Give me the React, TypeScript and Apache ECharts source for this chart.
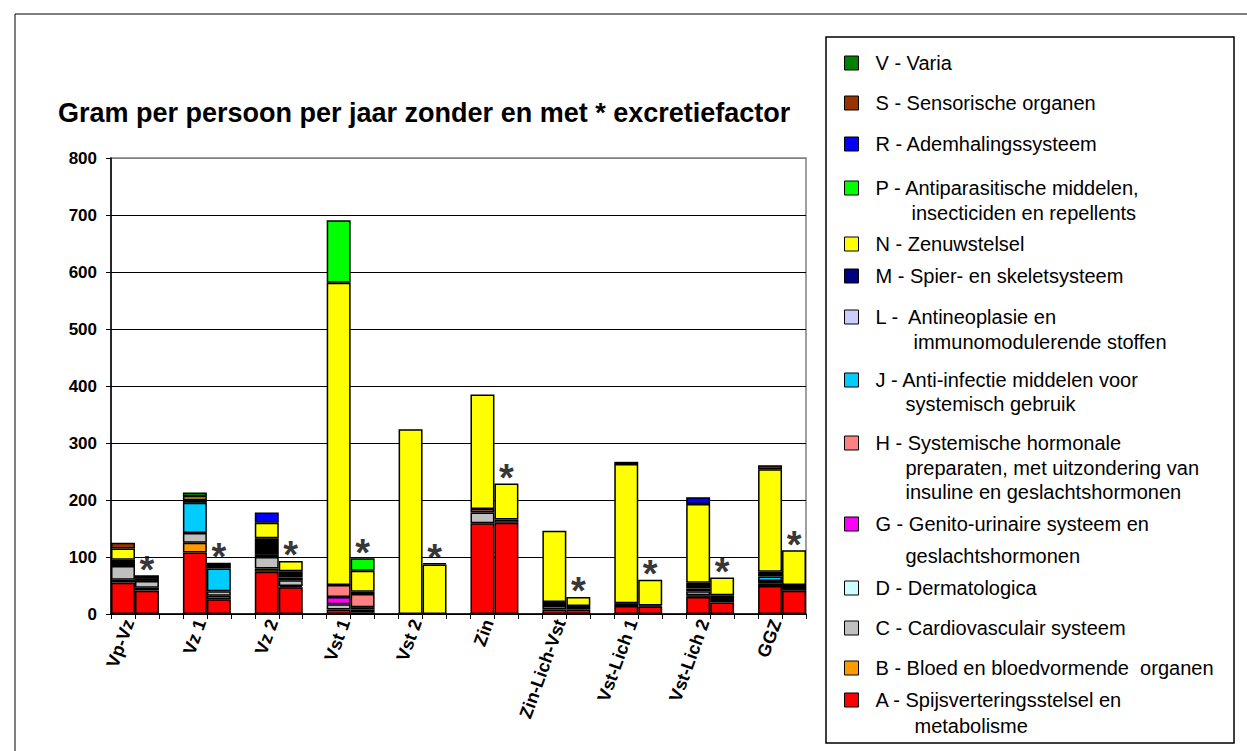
import React, { useEffect, useRef } from 'react';
import * as echarts from 'echarts';

const FONT = '"Liberation Sans", Arial, sans-serif';

// Groups of bars: each group has a bar "zonder" and a bar "met * excretiefactor"
const groups = ['Vp-Vz', 'Vz 1', 'Vz 2', 'Vst 1', 'Vst 2', 'Zin', 'Zin-Lich-Vst', 'Vst-Lich 1', 'Vst-Lich 2', 'GGZ'];
const yTicks = [0, 100, 200, 300, 400, 500, 600, 700, 800];

// values per ATC group, ordered [zonder, met] for each of the 10 groups (gram per persoon per jaar)
const A = [55, 41, 108, 26, 74, 47, 8, 3, 0, 0, 159, 160, 8, 8, 14, 13, 30, 20, 49, 41];
const B = [5, 5, 17, 6, 6, 2, 0, 0, 0, 0, 0, 0, 0, 0, 0, 0, 3, 0, 5, 0];
const C = [24, 12, 17, 8, 20, 10, 9, 5, 0, 0, 19, 6, 6, 0, 0, 0, 7, 0, 4, 0];
const D = [0, 0, 0, 0, 0, 0, 0, 0, 0, 0, 0, 0, 0, 0, 0, 0, 0, 0, 0, 0];
const G = [0, 0, 0, 0, 0, 0, 13, 4, 0, 0, 0, 0, 0, 0, 0, 0, 0, 0, 0, 0];
const H = [0, 0, 0, 0, 0, 0, 21, 23, 0, 0, 6, 0, 0, 0, 0, 0, 0, 0, 0, 0];
const J = [0, 0, 53, 40, 5, 5, 0, 0, 0, 0, 0, 0, 0, 0, 0, 0, 5, 0, 8, 0];
const L = [0, 0, 0, 0, 0, 0, 0, 4, 0, 0, 0, 0, 0, 0, 0, 0, 0, 0, 0, 0];
const M = [11, 5, 5, 10, 28, 11, 0, 0, 0, 0, 0, 0, 7, 6, 5, 2, 10, 13, 8, 10];
const N = [20, 5, 7, 0, 27, 18, 530, 37, 324, 87, 201, 63, 125, 16, 244, 45, 138, 31, 180, 61];
const P = [0, 0, 6, 0, 0, 0, 110, 22, 0, 0, 0, 0, 0, 0, 0, 0, 0, 0, 0, 0];
const R = [0, 0, 0, 0, 18, 0, 0, 0, 0, 0, 0, 0, 0, 0, 0, 0, 12, 0, 0, 0];
const S = [10, 0, 0, 0, 0, 0, 0, 0, 0, 2, 0, 0, 0, 0, 4, 0, 0, 0, 7, 0];
const V = [0, 0, 0, 0, 0, 0, 0, 0, 0, 0, 0, 0, 0, 0, 0, 0, 0, 0, 0, 0];

// legend texts (lines)
const seriesDefs = [
  { key: 'A', values: A, lines: ['A - Spijsverteringsstelsel en', 'metabolisme'] },
  { key: 'B', values: B, lines: ['B - Bloed en bloedvormende  organen'] },
  { key: 'C', values: C, lines: ['C - Cardiovasculair systeem'] },
  { key: 'D', values: D, lines: ['D - Dermatologica'] },
  { key: 'G', values: G, lines: ['G - Genito-urinaire systeem en', 'geslachtshormonen'] },
  { key: 'H', values: H, lines: ['H - Systemische hormonale', 'preparaten, met uitzondering van', 'insuline en geslachtshormonen'] },
  { key: 'J', values: J, lines: ['J - Anti-infectie middelen voor', 'systemisch gebruik'] },
  { key: 'L', values: L, lines: ['L -  Antineoplasie en', 'immunomodulerende stoffen'] },
  { key: 'M', values: M, lines: ['M - Spier- en skeletsysteem'] },
  { key: 'N', values: N, lines: ['N - Zenuwstelsel'] },
  { key: 'P', values: P, lines: ['P - Antiparasitische middelen,', 'insecticiden en repellents'] },
  { key: 'R', values: R, lines: ['R - Ademhalingssysteem'] },
  { key: 'S', values: S, lines: ['S - Sensorische organen'] },
  { key: 'V', values: V, lines: ['V - Varia'] },
];

// styles
const barColors: Record<string, string> = {
  A: '#FF0000', B: '#FF9900', C: '#C0C0C0', D: '#CCFFFF', G: '#FF00FF', H: '#FF8080',
  J: '#00CCFF', L: '#CCCCFF', M: '#000000', N: '#FFFF00', P: '#00FF00', R: '#0000FF',
  S: '#993300', V: '#008000',
};
const legendColors: Record<string, string> = { ...barColors, M: '#000080' };

// legend layout: centre y of first line, line height, indent of continuation lines
const legendLayout: Record<string, { cy: number; lh: number; indent: number }> = {
  V: { cy: 63, lh: 25, indent: 0 },
  S: { cy: 103, lh: 25, indent: 0 },
  R: { cy: 144, lh: 25, indent: 0 },
  P: { cy: 188, lh: 25, indent: 36 },
  N: { cy: 244, lh: 25, indent: 0 },
  M: { cy: 276, lh: 25, indent: 0 },
  L: { cy: 317, lh: 25, indent: 38 },
  J: { cy: 380, lh: 24, indent: 30 },
  H: { cy: 443, lh: 24.5, indent: 30 },
  G: { cy: 524, lh: 32, indent: 30 },
  D: { cy: 588, lh: 25, indent: 0 },
  C: { cy: 628, lh: 25, indent: 0 },
  B: { cy: 668, lh: 25, indent: 0 },
  A: { cy: 700, lh: 25.7, indent: 39 },
};

// 29 category slots: [zonder, met, empty] per group, last group without empty slot
const slotCount = groups.length * 3 - 1;
const slots: string[] = [];
for (let i = 0; i < slotCount; i++) {
  const g = Math.floor(i / 3);
  const r = i % 3;
  slots.push(r === 0 ? groups[g] : r === 1 ? groups[g] + ' *' : '');
}
// half-slot label axis: label of group k sits in half-slot 6k+1
const halfSlots: string[] = [];
for (let j = 0; j < slotCount * 2; j++) {
  halfSlots.push(j % 6 === 1 ? groups[(j - 1) / 6] : '');
}
const toSlots = (vals: number[]) => {
  const out: (number | string)[] = [];
  for (let i = 0; i < slotCount; i++) {
    const g = Math.floor(i / 3);
    const r = i % 3;
    if (r === 2) out.push('-');
    else {
      const v = vals[g * 2 + r];
      out.push(v ? v : '-');
    }
  }
  return out;
};

export default function App() {
  const ref = useRef<HTMLDivElement>(null);
  useEffect(() => {
    if (!ref.current) return;
    const chart = echarts.init(ref.current, null, { renderer: 'svg' });

    const barSeries = seriesDefs.map((s) => ({
      type: 'bar',
      name: s.lines[0],
      stack: 'total',
      xAxisIndex: 0,
      barCategoryGap: '0%',
      data: toSlots(s.values),
      itemStyle: { color: barColors[s.key], borderColor: '#000', borderWidth: 1.5 },
      silent: true,
    }));

    const starData: (number | string)[] = [];
    for (let i = 0; i < slotCount; i++) {
      const g = Math.floor(i / 3);
      if (i % 3 === 1) {
        starData.push(seriesDefs.reduce((acc, s) => acc + s.values[g * 2 + 1], 0));
      } else starData.push('-');
    }

    const legends = seriesDefs.map((s) => {
      const lay = legendLayout[s.key];
      const n = s.lines.length;
      return {
        show: true,
        selectedMode: false,
        orient: 'vertical',
        left: 844,
        top: lay.cy - ((2 * n - 1) * lay.lh) / 2,
        padding: 0,
        itemWidth: 14,
        itemHeight: 14,
        icon: 'rect',
        data: [{ name: s.lines[0], itemStyle: { color: legendColors[s.key], borderColor: '#000', borderWidth: 1 } }],
        formatter: () => s.lines.map((l, i) => (i === 0 ? `{a|${l}}` : `{b|${l}}`)).join('\n'),
        textStyle: {
          fontFamily: FONT,
          fontSize: 20,
          color: '#000',
          lineHeight: lay.lh,
          padding: [(n - 1) * lay.lh, 0, 0, 12],
          rich: {
            a: { fontFamily: FONT, fontSize: 20, color: '#000', lineHeight: lay.lh },
            b: { fontFamily: FONT, fontSize: 20, color: '#000', lineHeight: lay.lh, padding: [0, 0, 0, lay.indent] },
          },
        },
      };
    });

    const option: any = {
      animation: false,
      backgroundColor: '#fff',
      textStyle: { fontFamily: FONT },
      title: {
        text: 'Gram per persoon per jaar zonder en met * excretiefactor',
        left: 58,
        top: 99,
        padding: 0,
        textStyle: { fontFamily: FONT, fontSize: 27, fontWeight: 'bold', color: '#000' },
      },
      legend: legends,
      grid: {
        left: 111,
        top: 158,
        width: 695,
        height: 456,
        show: true,
        borderColor: '#808080',
        borderWidth: 1.5,
        backgroundColor: 'transparent',
      },
      xAxis: [
        {
          type: 'category',
          data: slots,
          position: 'bottom',
          axisLine: { show: true, lineStyle: { color: '#000', width: 1.5 } },
          axisTick: { show: true, interval: 0, length: 5, lineStyle: { color: '#000', width: 1 } },
          axisLabel: { show: false },
          splitLine: { show: false },
        },
        {
          type: 'category',
          data: halfSlots,
          position: 'bottom',
          offset: 0,
          axisLine: { show: false },
          axisTick: { show: false },
          splitLine: { show: false },
          axisLabel: {
            show: true,
            interval: 0,
            rotate: 70,
            margin: 6,
            fontFamily: FONT,
            fontSize: 18,
            fontWeight: 'bold',
            color: '#000',
          },
        },
      ],
      yAxis: {
        type: 'value',
        min: yTicks[0],
        max: yTicks[yTicks.length - 1],
        interval: yTicks[1] - yTicks[0],
        axisLine: { show: true, lineStyle: { color: '#000', width: 1.5 } },
        axisTick: { show: true, length: 5, lineStyle: { color: '#000' } },
        axisLabel: { margin: 14, fontFamily: FONT, fontSize: 17, fontWeight: 'bold', color: '#000' },
        splitLine: {
          show: true,
          lineStyle: { color: ['#000', '#000', '#000', '#000', '#000', '#000', '#000', '#000', '#808080'], width: 1 },
        },
      },
      graphic: [
        {
          type: 'rect',
          shape: { x: 15, y: 14, width: 1260, height: 760 },
          style: { fill: 'none', stroke: '#000', lineWidth: 1 },
          silent: true,
          z: -10,
        },
        {
          type: 'rect',
          shape: { x: 826, y: 37, width: 408, height: 706 },
          style: { fill: 'none', stroke: '#000', lineWidth: 1.5 },
          silent: true,
          z: -10,
        },
      ],
      series: [
        ...barSeries,
        {
          type: 'scatter',
          name: 'stars',
          xAxisIndex: 0,
          data: starData,
          symbol: 'circle',
          symbolSize: 1,
          itemStyle: { color: 'rgba(0,0,0,0)' },
          silent: true,
          z: 5,
          label: {
            show: true,
            position: 'top',
            distance: -14,
            formatter: '*',
            fontFamily: FONT,
            fontSize: 38,
            fontWeight: 'bold',
            color: '#000',
          },
        },
      ],
    };
    chart.setOption(option);
    return () => chart.dispose();
  }, []);
  return <div ref={ref} style={{ position: 'absolute', left: 0, top: 0, width: 1247, height: 751 }} />;
}
